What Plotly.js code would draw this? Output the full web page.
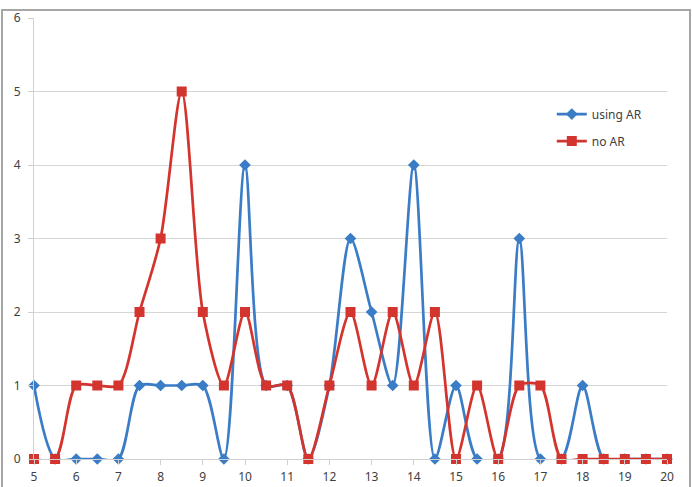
<!DOCTYPE html>
<html>
<head>
<meta charset="utf-8">
<script src="https://cdn.plot.ly/plotly-3.0.1.min.js"></script>
<style>html,body{margin:0;padding:0;background:#fff;}#chart{width:692px;height:487px;}</style>
</head>
<body>
<div id="chart"></div>
<script>
const xValues = [5,5.5,6,6.5,7,7.5,8,8.5,9,9.5,10,10.5,11,11.5,12,12.5,13,13.5,14,14.5,15,15.5,16,16.5,17,17.5,18,18.5,19,19.5,20];
const usingAR = [1,0,0,0,0,1,1,1,1,0,4,1,1,0,1,3,2,1,4,0,1,0,0,3,0,0,1,0,0,0,0];
const noAR    = [0,0,1,1,1,2,3,5,2,1,2,1,1,0,1,2,1,2,1,2,0,1,0,1,1,0,0,0,0,0,0];
const xTicks = [5,6,7,8,9,10,11,12,13,14,15,16,17,18,19,20];
const yTicks = [0,1,2,3,4,5,6];

const blue = '#3a7cc6';
const red = '#d3342d';

const traces = [
  {x: xValues, y: usingAR, name: 'using AR', legendgroup: 'a', type: 'scatter', mode: 'lines+markers',
   line: {color: blue, width: 2.7, shape: 'spline', smoothing: 0.8},
   marker: {symbol: 'diamond', size: 9, color: blue}, cliponaxis: false},
  {x: xValues, y: noAR, name: 'no AR', legendgroup: 'b', type: 'scatter', mode: 'lines+markers',
   line: {color: red, width: 2.7, shape: 'spline', smoothing: 0.8},
   marker: {symbol: 'square', size: 10, color: red}, cliponaxis: false}
];

const W = 633, H = 441;
const layout = {
  width: 692, height: 487,
  margin: {l: 34, r: 25, t: 18, b: 28},
  paper_bgcolor: '#fff', plot_bgcolor: '#fff',
  font: {family: 'Noto Sans, sans-serif', size: 12, color: '#404040'},
  showlegend: true,
  legend: {x: 0.818, y: 0.815, xanchor: 'left', yanchor: 'top', bgcolor: 'rgba(0,0,0,0)',
           font: {size: 12, color: '#404040'}, traceorder: 'grouped', tracegroupgap: 8, itemwidth: 30},
  xaxis: {range: [5, 20], tickvals: xTicks, ticktext: xTicks.map(String),
          showgrid: false, zeroline: false, showline: true, linecolor: '#d0d0d0', linewidth: 1,
          ticks: 'outside', ticklen: 5, tickcolor: '#d0d0d0', ticklabelstandoff: 2, fixedrange: true},
  yaxis: {range: [0, 6], tickvals: yTicks, ticktext: yTicks.map(String),
          showgrid: true, gridcolor: '#d6d6d6', gridwidth: 1, zeroline: false,
          showline: true, linecolor: '#d0d0d0', linewidth: 1,
          ticks: 'outside', ticklen: 5, tickcolor: '#d0d0d0', ticklabelstandoff: 5, fixedrange: true},
  shapes: [{type: 'rect', xref: 'paper', yref: 'paper',
            x0: (2 - 34) / W, x1: (690 - 34) / W, y0: (459 - 490) / H, y1: (459 - 10) / H,
            line: {color: '#a6a6a6', width: 2}, fillcolor: 'rgba(0,0,0,0)', layer: 'below'}]
};

Plotly.newPlot('chart', traces, layout, {displayModeBar: false, staticPlot: true});
</script>
</body>
</html>
